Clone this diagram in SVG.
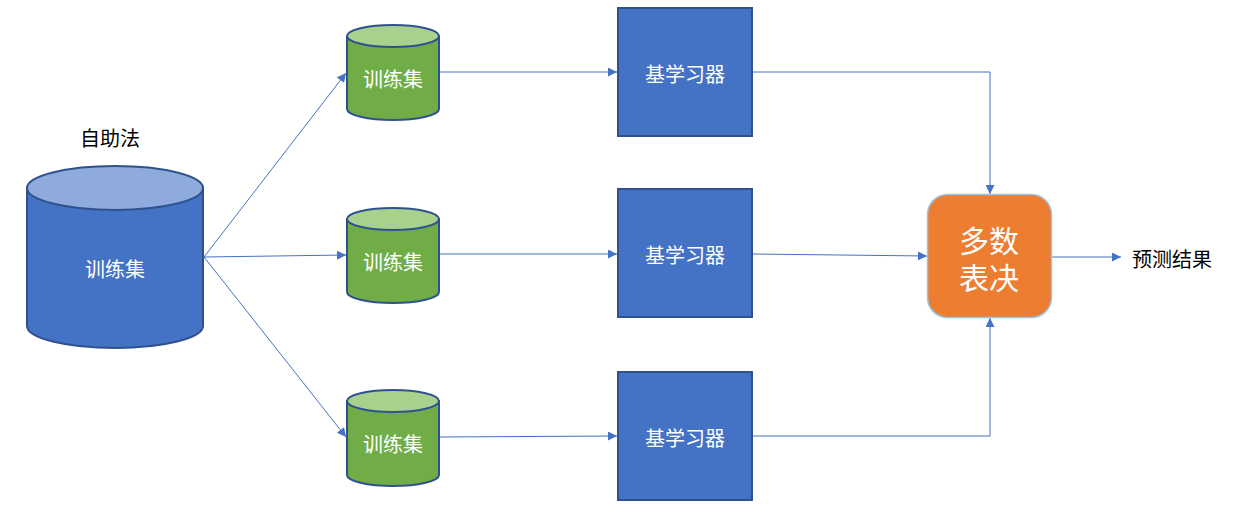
<svg xmlns="http://www.w3.org/2000/svg" width="1245" height="529" viewBox="0 0 1245 529">
<defs>
<marker id="arr" viewBox="0 0 10 10" refX="10" refY="5" markerWidth="10" markerHeight="9" markerUnits="userSpaceOnUse" orient="auto">
<path d="M0,0 L10,5 L0,10 Z" fill="#4472C4"/>
</marker>
</defs>
<style>
text{font-family:"Noto Sans CJK SC","Noto Sans",sans-serif;text-anchor:middle;dominant-baseline:central}
.w{fill:#ffffff;font-size:20px}
.k{fill:#000000;font-size:20px}
.big{fill:#ffffff;font-size:30px}
.c{fill:none;stroke:#4472C4;stroke-width:1;marker-end:url(#arr)}
.bb{fill:#4472C4;stroke:#2F528F;stroke-width:2}
.bt{fill:#8FAADC;stroke:#2F528F;stroke-width:2}
.gb{fill:#70AD47;stroke:#2F528F;stroke-width:2}
.gt{fill:#A9D18E;stroke:#2F528F;stroke-width:2}
.sq{fill:#4472C4;stroke:#2F528F;stroke-width:2}
</style>
<rect width="1245" height="529" fill="#ffffff"/>
<g id="connectors">
<path class="c" d="M204,257 L346,73"/>
<path class="c" d="M204,257 L346,255"/>
<path class="c" d="M204,257 L346,437"/>
<path class="c" d="M439,72 L617,72"/>
<path class="c" d="M439,254 L617,254"/>
<path class="c" d="M439,437 L617,436"/>
<path class="c" d="M752,72 L990,72 L990,194"/>
<path class="c" d="M752,254 L927,256"/>
<path class="c" d="M752,436 L990,436 L990,318"/>
<path class="c" d="M1052,257 L1121,257"/>
</g>
<g id="label-bootstrap">
<text class="k" x="110" y="137">自助法</text>
</g>
<g id="source">
<path class="bb" d="M27,188 L27,326 A88,22 0 0 0 203,326 L203,188 Z"/>
<ellipse class="bt" cx="115" cy="188" rx="88" ry="22"/>
<text class="w" x="115" y="268">训练集</text>
</g>
<g id="train1">
<path class="gb" d="M347,36 L347,109 A46,11 0 0 0 439,109 L439,36 Z"/>
<ellipse class="gt" cx="393" cy="36" rx="46" ry="11"/>
<text class="w" x="393" y="78">训练集</text>
</g>
<g id="train2">
<path class="gb" d="M347,219 L347,292 A46,11 0 0 0 439,292 L439,219 Z"/>
<ellipse class="gt" cx="393" cy="219" rx="46" ry="11"/>
<text class="w" x="393" y="261">训练集</text>
</g>
<g id="train3">
<path class="gb" d="M347,401 L347,475 A46,11 0 0 0 439,475 L439,401 Z"/>
<ellipse class="gt" cx="393" cy="401" rx="46" ry="11"/>
<text class="w" x="393" y="443">训练集</text>
</g>
<g id="learner1">
<rect class="sq" x="618" y="8" width="134" height="128"/>
<text class="w" x="685" y="73">基学习器</text>
</g>
<g id="learner2">
<rect class="sq" x="618" y="189" width="134" height="128"/>
<text class="w" x="685" y="254">基学习器</text>
</g>
<g id="learner3">
<rect class="sq" x="618" y="372" width="134" height="128"/>
<text class="w" x="685" y="437">基学习器</text>
</g>
<g id="vote">
<rect x="927.5" y="194.5" width="124" height="123" rx="20" fill="#ED7D31" stroke="#9DC3E6" stroke-width="1.5"/>
<text class="big"><tspan x="989" y="239">多数</tspan><tspan x="989" y="276">表决</tspan></text>
</g>
<g id="result">
<text class="k" x="1172" y="258">预测结果</text>
</g>
</svg>
